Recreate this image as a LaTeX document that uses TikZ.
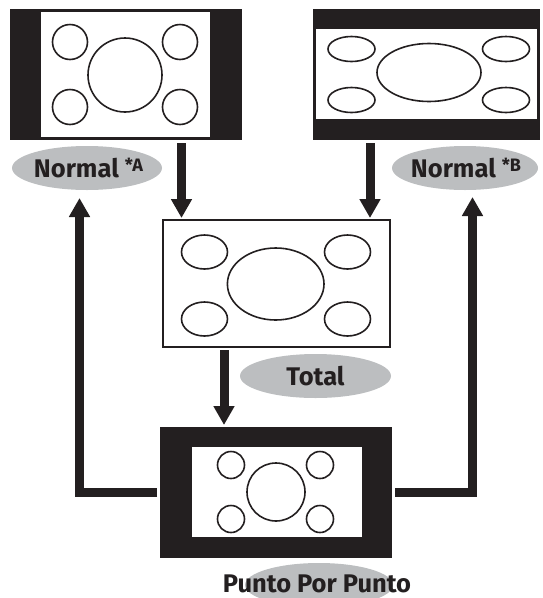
\documentclass[tikz,border=0pt]{standalone}
\usepackage{fontspec}
\setmainfont{Fira Sans}
\usepackage{xcolor}
\usepackage{tikz}
\usetikzlibrary{shapes.geometric, arrows.meta, positioning}
\definecolor{ink}{HTML}{231F20}
\definecolor{tagfill}{HTML}{BCBEC0}

\tikzset{
  screen/.style={fill=ink, inner sep=0pt, outer sep=0pt},
  inset/.style={fill=white, inner sep=0pt, outer sep=0pt},
  ring/.style={draw=ink, line width=1.6pt},
  tag/.style={ellipse, fill=tagfill, inner sep=0pt},
  tagtext/.style={anchor=base, inner sep=0pt, text=ink, font=\bfseries\fontsize{25.5}{25.5}\selectfont},
  flow/.style={draw=ink, line width=9pt, shorten <=3pt, -{Triangle[width=20pt,length=19pt]}}
}
\newcommand{\supmark}[1]{{\fontsize{18}{18}\selectfont\raisebox{6pt}{#1}}}

\begin{document}
\begin{tikzpicture}[x=1pt, y=-1pt]
        \useasboundingbox (0,0) rectangle (543,598);

        % Normal *A (side bars)
        \node[screen, minimum width=232pt, minimum height=131pt] (scrA) at (126,74.5) {};
        \node[inset, minimum width=169pt, minimum height=125pt] (vidA) at (125.5,74.5) {};
        \foreach \cx/\cy in {70/42, 180/42, 70/107, 180/107}
            \draw[ring] (\cx,\cy) circle (17.5pt);
        \draw[ring] (125,75) circle (37pt);

        % Normal *B (top and bottom bars)
        \node[screen, minimum width=227pt, minimum height=131pt] (scrB) at (426.5,74.5) {};
        \node[inset, minimum width=221pt, minimum height=90pt] (vidB) at (426.5,74) {};
        \foreach \cx/\cy in {351.5/49, 506/49, 351.5/100, 506/100}
            \draw[ring] (\cx,\cy) ellipse (23.5pt and 12.5pt);
        \draw[ring] (429,72.5) ellipse (52pt and 29pt);

        % Total
        \node[draw=ink, fill=white, line width=2.5pt, inner sep=0pt, outer sep=0pt,
              minimum width=227pt, minimum height=127pt] (total) at (276.5,283.5) {};
        \foreach \cx/\cy in {204.5/252, 347.5/252, 204.5/319, 347.5/319}
            \draw[ring] (\cx,\cy) ellipse (23pt and 17pt);
        \draw[ring] (275.7,284) ellipse (48.3pt and 36pt);

        % Punto Por Punto
        \node[screen, minimum width=232pt, minimum height=131pt] (punto) at (276,492.5) {};
        \node[inset, minimum width=170pt, minimum height=90pt] (vidP) at (277,492) {};
        \foreach \cx/\cy in {231/465, 320/465, 231/519, 320/519}
            \draw[ring] (\cx,\cy) circle (13.5pt);
        \draw[ring] (276,492) circle (29pt);

        % labels
        \node[tag, minimum width=150pt, minimum height=44pt] (lblA) at (87,168) {};
        \node[tagtext] (txtA) at (88.5,177.5) {Normal \supmark{*A}};
        \node[tag, minimum width=146pt, minimum height=44pt] (lblB) at (465,168) {};
        \node[tagtext] (txtB) at (466,177.5) {Normal \supmark{*B}};
        \node[tag, minimum width=151pt, minimum height=44pt] (lblT) at (315.5,376) {};
        \node[tagtext] (txtT) at (315.5,385.5) {Total};
        \node[tag, minimum width=148pt, minimum height=44pt] (lblP) at (319,585) {};
        \node[tagtext] (txtP) at (317,592) {Punto Por Punto};

        % arrows
        \coordinate (inA) at ([xshift=18.5pt,yshift=2pt]total.north west);
        \coordinate (inB) at ([xshift=-20pt,yshift=2pt]total.north east);
        \coordinate (inP) at ([xshift=64pt,yshift=2pt]punto.north west);
        \coordinate (upA) at (79.5,198);
        \coordinate (upB) at (472.5,197);
        \draw[flow] (scrA.south -| inA) -- (inA);
        \draw[flow] (scrB.south -| inB) -- (inB);
        \draw[flow] (total.south -| inP) -- (inP);
        \draw[flow] (punto.west) -| (upA);
        \draw[flow] (punto.east) -| (upB);
\end{tikzpicture}
\end{document}
